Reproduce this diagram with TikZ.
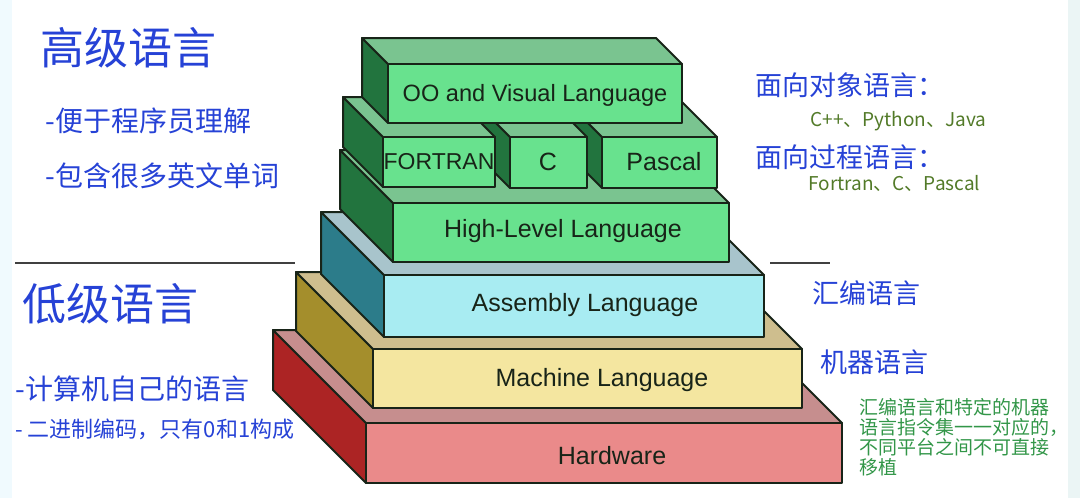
\documentclass[tikz,border=0pt]{standalone}
\usepackage{fontspec}
\setmainfont{Liberation Sans}
\newfontfamily\cjk{Noto Sans CJK SC}

%% text colours
\definecolor{penblue}{RGB}{38,66,214}
\definecolor{olivetext}{RGB}{82,122,40}
\definecolor{notegreen}{RGB}{50,150,72}
\definecolor{labeltext}{RGB}{24,36,24}
%% slab colours
\definecolor{greenfront}{RGB}{104,226,142}
\definecolor{greentop}{RGB}{122,196,144}
\definecolor{greenside}{RGB}{34,116,62}
\definecolor{cyanfront}{RGB}{168,236,242}
\definecolor{cyantop}{RGB}{168,196,204}
\definecolor{cyanside}{RGB}{44,124,138}
\definecolor{yellowfront}{RGB}{244,230,160}
\definecolor{yellowtop}{RGB}{206,190,142}
\definecolor{yellowside}{RGB}{164,142,44}
\definecolor{redfront}{RGB}{234,138,138}
\definecolor{redtop}{RGB}{198,142,142}
\definecolor{redside}{RGB}{172,36,36}

%% one slab: x1, y1, x2, y2 of the front face, depth, colour family
\newcommand{\slab}[6]{%
  \filldraw[edge,fill=#6side] ({#1-#5},{#2-#5}) -- (#1,#2) -- (#1,#4) -- ({#1-#5},{#4-#5}) -- cycle;
  \filldraw[edge,fill=#6top] ({#1-#5},{#2-#5}) -- ({#3-#5},{#2-#5}) -- (#3,#2) -- (#1,#2) -- cycle;
  \filldraw[edge,fill=#6front] (#1,#2) rectangle (#3,#4);
}

\tikzset{
  edge/.style={draw=labeltext,line width=1pt,line join=round},
  boxlabel/.style={font=\fontsize{12.5}{14}\selectfont,text=labeltext,inner sep=0pt},
  heading/.style={font=\cjk\fontsize{22}{26}\selectfont,text=penblue,anchor=west,inner sep=0pt},
  point/.style={font=\cjk\fontsize{14}{16}\selectfont,text=penblue,anchor=west,inner sep=0pt},
  sidehead/.style={font=\cjk\fontsize{13.5}{16}\selectfont,text=penblue,anchor=west,inner sep=0pt},
  example/.style={font=\cjk\fontsize{9.5}{11}\selectfont,text=olivetext,anchor=west,inner sep=0pt},
  note/.style={font=\cjk\fontsize{9.5}{10}\selectfont,text=notegreen,anchor=north west,align=left,inner sep=0pt},
  rule/.style={draw=black!75,line width=1pt}
}

\begin{document}
\begin{tikzpicture}[x=0.5pt,y=-0.5pt]
        \useasboundingbox (0,0) rectangle (1080,498);
        \fill[cyan!6] (0,0) rectangle (12,498);
        \fill[teal!8] (1068,0) rectangle (1080,498);
        %% Slabs, bottom to top
        \slab{366}{423}{842}{483}{93}{red}
        \slab{373}{349}{802}{408}{77}{yellow}
        \slab{384}{275}{764}{337}{63}{cyan}
        \slab{393}{203}{729}{262}{53}{green}
        \slab{602}{137}{717}{188}{40}{green}
        \slab{510}{137}{587}{188}{40}{green}
        \slab{383}{137}{495}{187}{40}{green}
        \slab{388}{64}{682}{123}{26}{green}
        %% Slab labels
        \node[boxlabel] (hardware) at (612,456) {Hardware};
        \node[boxlabel] (machine) at (602,380) {Machine Language};
        \node[boxlabel] (assembly) at (585,305) {Assembly Language};
        \node[boxlabel] (highlevel) at (563,231) {High-Level Language};
        \node[boxlabel,font=\fontsize{11.5}{14}\selectfont] (fortran) at (439,162) {FORTRAN};
        \node[boxlabel] (clang) at (548,162) {C};
        \node[boxlabel] (pascal) at (664,162) {Pascal};
        \node[boxlabel,font=\fontsize{11.8}{14}\selectfont] (oovisual) at (535,95) {OO and Visual Language};
        %% Dividing lines
        \draw[rule] (15,263) -- (295,263);
        \draw[rule] (770,263) -- (830,263);
        %% Left side
        \node[heading] (highhead) at (40,48) {高级语言};
        \node[point] (highone) at (45,121) {-便于程序员理解};
        \node[point] (hightwo) at (45,176) {-包含很多英文单词};
        \node[heading] (lowhead) at (22,304) {低级语言};
        \node[point] (lowone) at (15,389) {-计算机自己的语言};
        \node[point,font=\cjk\fontsize{11}{13}\selectfont] (lowtwo) at (15,429) {- 二进制编码，只有0和1构成};
        %% Right side
        \node[sidehead] (oohead) at (755,85) {面向对象语言：};
        \node[example] (ooex) at (810,121) {C++、Python、Java};
        \node[sidehead] (prochead) at (755,157) {面向过程语言：};
        \node[example] (procex) at (808,183) {Fortran、C、Pascal};
        \node[sidehead] (asmhead) at (812,293) {汇编语言};
        \node[sidehead] (machhead) at (820,362) {机器语言};
        \node[note] (asmnote) at (859,398) {汇编语言和特定的机器\\语言指令集一一对应的，\\不同平台之间不可直接\\移植};
\end{tikzpicture}
\end{document}
